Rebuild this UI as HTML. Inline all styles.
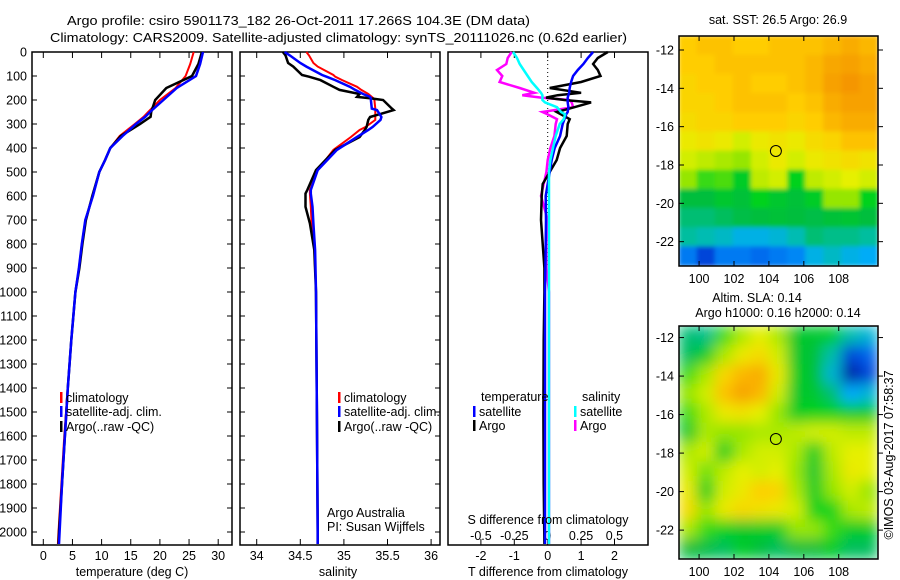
<!DOCTYPE html>
<html><head><meta charset="utf-8"><style>
html,body{margin:0;padding:0;background:#fff;}
svg{display:block;font-family:"Liberation Sans",sans-serif;}
text{font-size:12.5px;fill:#000;}
</style></head><body>
<svg id="chart" width="900" height="580" viewBox="0 0 900 580" xmlns="http://www.w3.org/2000/svg">
<defs>
<filter id="blurTop" x="0" y="0" width="1" height="1"><feGaussianBlur stdDeviation="2"/></filter>
<filter id="blurBot" x="0" y="0" width="1" height="1"><feGaussianBlur stdDeviation="7"/></filter>
<clipPath id="clipTop"><rect x="679" y="36" width="199" height="230"/></clipPath>
<clipPath id="clipBot"><rect x="679" y="326" width="199" height="233"/></clipPath>
</defs>
<text x="67" y="25" textLength="463" lengthAdjust="spacingAndGlyphs" font-size="13">Argo profile: csiro 5901173_182 26-Oct-2011 17.266S 104.3E (DM data)</text>
<text x="50" y="42" textLength="577" lengthAdjust="spacingAndGlyphs" font-size="13">Climatology: CARS2009. Satellite-adjusted climatology: synTS_20111026.nc (0.62d earlier)</text>
<g id="g"></g>
</svg>
<script>
// ---------- data ----------
const depthT = [0,50,100,150,200,250,270,300,350,400,450,500,600,700,800,900,1000,1200,1400,1600,1800,2000,2050];
const tempClim = [25.8,25.2,24.4,22.7,20.0,18.0,17.2,15.7,13.1,11.5,10.6,9.6,8.5,7.2,6.6,6.1,5.5,4.8,4.2,3.6,3.1,2.6,2.5];
const tempSat  = [27.4,26.9,26.2,22.9,20.6,18.3,17.5,15.9,13.6,11.5,10.6,9.6,8.5,7.2,6.6,6.1,5.5,4.8,4.2,3.7,3.2,2.8,2.7];
const tempArgo = [27.2,26.6,25.5,21.1,19.2,18.5,18.4,16.6,13.3,11.5,10.6,9.6,8.4,7.3,6.7,6.2,5.5,4.8,4.2,3.7,3.2,2.7,2.6];

const depthS = [0,14,46,61,96,103,117,145,158,175,187,193,200,236,242,271,283,312,325,354,408,492,575,590,645,714,825,1000,1500,2000,2050];
const salClim = [34.57,34.6,34.65,34.7,34.88,34.9,34.98,35.15,35.2,35.28,35.32,35.34,35.35,35.36,35.36,35.36,35.36,35.25,35.18,35.08,34.88,34.70,34.61,34.61,34.62,34.63,34.66,34.68,34.69,34.70,34.70];
const salSat  = [34.32,34.38,34.5,34.57,34.75,34.8,34.9,35.07,35.13,35.22,35.3,35.31,35.31,35.32,35.38,35.43,35.42,35.33,35.28,35.15,34.92,34.70,34.62,34.62,34.64,34.65,34.67,34.68,34.69,34.70,34.70];
const salArgo = [34.30,34.33,34.36,34.42,34.52,34.6,34.73,34.88,34.95,35.18,35.15,35.3,35.45,35.55,35.57,35.3,35.28,35.26,35.24,35.18,34.9,34.68,34.58,34.56,34.56,34.61,34.66,34.68,34.69,34.70,34.70];

const depthD = [0,25,50,75,100,125,150,170,180,190,200,210,230,250,260,280,300,350,400,450,500,550,600,700,800,900,1000,1200,1500,1800,2050];
const dTsat  = [1.36,1.2,1.07,0.9,0.76,0.7,0.66,0.64,0.62,0.6,0.6,0.6,0.62,0.6,0.55,0.5,0.45,0.37,0.21,0.12,0.06,0.0,-0.06,-0.05,-0.06,-0.07,-0.08,-0.08,-0.08,-0.08,-0.08];
const dTargo = [1.8,1.5,1.36,1.5,1.58,1.0,0.06,1.0,0.3,-0.05,0.5,1.3,0.8,0.27,0.4,0.66,0.6,0.57,0.37,0.27,0.06,-0.15,-0.18,-0.2,-0.15,-0.1,-0.1,-0.12,-0.13,-0.12,-0.1];
const dSsat  = [-0.26,-0.23,-0.21,-0.18,-0.15,-0.12,-0.08,-0.05,-0.04,-0.04,-0.04,-0.02,0.07,0.1,0.13,0.12,0.09,0.06,0.04,0.02,0.01,0.01,0.01,0.01,0.01,0.01,0.01,0.01,0.01,0.01,0.01];
const dSargo = [-0.27,-0.3,-0.31,-0.38,-0.34,-0.36,-0.21,-0.1,-0.19,-0.05,0.16,0.18,0.19,-0.04,0.0,0.07,0.06,0.05,0.02,0.0,-0.01,-0.03,-0.05,0.0,-0.01,-0.01,0.01,0.01,0.01,0.01,0.01];

const tempTicks = [0,5,10,15,20,25,30];
const salTicks = [34,34.5,35,35.5,36];
const dTTicks = [-2,-1,0,1,2];
const dSTicks = [-0.5,-0.25,0,0.25,0.5];
const depthTicks = [0,100,200,300,400,500,600,700,800,900,1000,1100,1200,1300,1400,1500,1600,1700,1800,1900,2000];
const lonTicks = [100,102,104,106,108];
const latTicks = [-12,-14,-16,-18,-20,-22];

const sstGrid = [
[.78,.8,.8,.78,.78,.8,.8,.8,.82,.84,.82],
[.78,.78,.8,.8,.8,.8,.8,.82,.85,.86,.84],
[.76,.78,.78,.8,.78,.78,.8,.82,.86,.88,.86],
[.76,.76,.78,.8,.8,.8,.78,.8,.84,.86,.86],
[.74,.76,.76,.78,.78,.78,.76,.78,.82,.84,.84],
[.7,.72,.7,.66,.7,.72,.7,.74,.76,.8,.8],
[.66,.64,.62,.6,.66,.7,.66,.7,.72,.74,.72],
[.6,.55,.56,.5,.64,.66,.52,.64,.66,.68,.66],
[.45,.45,.48,.46,.52,.48,.46,.5,.6,.6,.52],
[.4,.4,.42,.44,.45,.46,.45,.44,.46,.47,.45],
[.36,.34,.32,.28,.28,.3,.34,.4,.38,.38,.36],
[.18,.1,.18,.18,.16,.18,.2,.28,.32,.28,.26]];
const slaGrid = [
[.4,.38,.55,.62,.68,.62,.48,.48,.5,.35,.3],
[.42,.5,.62,.7,.74,.66,.48,.46,.35,.1,.15],
[.55,.62,.75,.82,.84,.7,.5,.46,.3,.02,.1],
[.6,.66,.8,.86,.82,.66,.48,.48,.4,.25,.3],
[.55,.62,.7,.72,.68,.6,.5,.52,.52,.5,.5],
[.48,.62,.6,.6,.62,.62,.64,.66,.66,.64,.64],
[.62,.66,.5,.62,.66,.66,.62,.5,.64,.68,.68],
[.66,.58,.64,.68,.66,.68,.6,.48,.62,.7,.68],
[.7,.5,.66,.7,.78,.76,.62,.5,.6,.66,.6],
[.74,.6,.7,.75,.72,.7,.66,.52,.52,.62,.64],
[.62,.55,.52,.48,.5,.5,.6,.6,.55,.5,.5],
[.45,.44,.42,.5,.45,.42,.45,.45,.5,.42,.42]];
const argoLon = 104.4, argoLat = -17.27;

// ---------- helpers ----------
const NS="http://www.w3.org/2000/svg";
const G=document.getElementById('g');
function mk(tag,attrs,parent){const e=document.createElementNS(NS,tag);for(const k in attrs)e.setAttribute(k,attrs[k]);(parent||G).appendChild(e);return e;}
function txt(x,y,s,anchor,parent,size){const t=mk('text',{x:x,y:y,'text-anchor':anchor||'start'},parent);if(size)t.setAttribute('font-size',size);t.textContent=s;return t;}

const yDepth = d => 52 + d*0.24;
const TOP=52, BOT=545;
const panels=[{x0:32,x1:232},{x0:240,x1:440},{x0:448,x1:648}];
const xT = v => 43.3 + v*5.83;
const xS = v => 256.7 + (v-34)*87.2;
const xDT = v => 547.7 + v*33.4;
const xDS = v => 547.7 + v*133.5;

panels.forEach((p,i)=>{
  const r=mk('rect',{x:p.x0,y:TOP,width:p.x1-p.x0,height:BOT-TOP,fill:'none',stroke:'#000','stroke-width':1.5});
  
  
});
depthTicks.forEach(d=>{
  const y=yDepth(d);
  const lab=txt(27,y+4.5,String(d),'end');
  
  
  [0,1].forEach(i=>{const p=panels[i];
    mk('line',{x1:p.x0,x2:p.x0+5,y1:y,y2:y,stroke:'#000'});
    mk('line',{x1:p.x1,x2:p.x1-5,y1:y,y2:y,stroke:'#000'});});
});
function xTicks(vals,fx,pi,ly,labelFn,tickBottom,tickTop){
  vals.forEach(v=>{const x=fx(v);
    if(tickBottom) mk('line',{x1:x,x2:x,y1:BOT,y2:BOT-6,stroke:'#000'});
    if(tickTop) mk('line',{x1:x,x2:x,y1:TOP,y2:TOP+6,stroke:'#000'});
    const t=txt(x,ly,labelFn(v),'middle');
    
    
  });
}
xTicks(tempTicks,xT,0,560,v=>String(v),true,true);
xTicks(salTicks,xS,1,560,v=>String(v),true,true);
xTicks(dTTicks,xDT,2,560,v=>String(v),true,true);
xTicks(dSTicks,xDS,2,540,v=>String(v),false,false);

function line(depths,vals,fx,color,name,w){
  const pts=depths.map((d,i)=>fx(vals[i]).toFixed(1)+','+yDepth(d).toFixed(1)).join(' ');
  const pl=mk('polyline',{points:pts,fill:'none',stroke:color,'stroke-width':w||2,'stroke-linejoin':'miter'});
  
  
}
line(depthT,tempClim,xT,'#ff0000','temp-climatology-line');
line(depthT,tempArgo,xT,'#000000','temp-argo-line',2.5);
line(depthT,tempSat,xT,'#0000ff','temp-satellite-line',2.5);
line(depthS,salClim,xS,'#ff0000','salinity-climatology-line');
line(depthS,salArgo,xS,'#000000','salinity-argo-line',2.5);
line(depthS,salSat,xS,'#0000ff','salinity-satellite-line',2.5);
const z=mk('line',{x1:xDT(0),x2:xDT(0),y1:TOP,y2:265,stroke:'#000','stroke-dasharray':'1,3'});


line(depthD,dSargo,xDS,'#ff00ff','sal-diff-argo-line',2.5);
line(depthD,dTargo,xDT,'#000000','temp-diff-argo-line',2.5);
line(depthD,dTsat,xDT,'#0000ff','temp-diff-satellite-line',2.5);
line(depthD,dSsat,xDS,'#00ffff','sal-diff-satellite-line',2.5);

function legend(x,y,color,label,name){
  const r=mk('rect',{x:x,y:y-10,width:2.5,height:11,fill:color});
  
  
  const t=txt(x+6,y,label,'start');
  
  
}
legend(60,402,'#ff0000','climatology','legend-climatology');
legend(60,416,'#0000ff','satellite-adj. clim.','legend-satellite');
legend(60,431,'#000','Argo(..raw -QC)','legend-argo');
legend(338,402,'#ff0000','climatology','legend-climatology-2');
legend(338,416,'#0000ff','satellite-adj. clim.','legend-satellite-2');
legend(338,431,'#000','Argo(..raw -QC)','legend-argo-2');
txt(481,401,'temperature','start');
txt(582,401,'salinity','start');
legend(473,416,'#0000ff','satellite','legend-temp-satellite');
legend(473,430,'#000','Argo','legend-temp-argo');
legend(574,416,'#00ffff','satellite','legend-sal-satellite');
legend(574,430,'#ff00ff','Argo','legend-sal-argo');
txt(327,517,'Argo Australia','start');
txt(327,531,'PI: Susan Wijffels','start');
txt(548,524,'S difference from climatology','middle');
txt(132,576,'temperature (deg C)','middle');
txt(338,576,'salinity','middle');
txt(548,576,'T difference from climatology','middle');

const cmap=[[0,[0,16,150]],[0.12,[0,80,230]],[0.25,[0,170,255]],[0.35,[0,190,170]],[0.45,[0,190,60]],[0.52,[0,210,30]],[0.6,[150,230,0]],[0.68,[230,240,0]],[0.78,[255,205,0]],[0.88,[245,150,0]],[1,[230,110,0]]];
function col(v){for(let i=1;i<cmap.length;i++){if(v<=cmap[i][0]){const a=cmap[i-1],b=cmap[i],t=(v-a[0])/(b[0]-a[0]);return 'rgb('+a[1].map((c,k)=>Math.round(c+(b[1][k]-c)*t)).join(',')+')';}}return 'rgb(230,110,0)';}
function drawMap(grid,y0,y1,latTop,latBot,clip,blur,name){
  const x0=679,x1=878,lonL=98.85,lonR=110.25;
  const fx=lon=>x0+(lon-lonL)/(lonR-lonL)*(x1-x0);
  const fy=lat=>y0+(latTop-lat)/(latTop-latBot)*(y1-y0);
  const cg=mk('g',{'clip-path':'url(#'+clip+')'});
  const ig=mk('g',{filter:'url(#'+blur+')'},cg);
  mk('rect',{x:x0,y:y0,width:x1-x0,height:y1-y0,fill:col(grid[6][5])},ig);
  const nr=grid.length,nc=grid[0].length,cw=(x1-x0)/nc,ch=(y1-y0)/nr;
  grid.forEach((row,r)=>row.forEach((v,c)=>{
    const cell=mk('rect',{x:(x0+c*cw-0.5).toFixed(1),y:(y0+r*ch-0.5).toFixed(1),width:(cw+1).toFixed(1),height:(ch+1).toFixed(1),fill:col(v)},ig);
    
    
  }));
  const fr=mk('rect',{x:x0,y:y0,width:x1-x0,height:y1-y0,fill:'none',stroke:'#000','stroke-width':1.5});
  
  
  lonTicks.forEach(l=>{const x=fx(l);
    mk('line',{x1:x,x2:x,y1:y1,y2:y1-5,stroke:'#000'});mk('line',{x1:x,x2:x,y1:y0,y2:y0+5,stroke:'#000'});
    const t=txt(x,y1+17,String(l),'middle');
    
    });
  latTicks.forEach(l=>{const y=fy(l);
    mk('line',{x1:x0,x2:x0+5,y1:y,y2:y,stroke:'#000'});mk('line',{x1:x1,x2:x1+5,y1:y,y2:y,stroke:'#000'});
    const t=txt(674,y+4.5,String(l),'end');
    
    });
  const c=mk('circle',{cx:fx(argoLon),cy:fy(argoLat),r:5.5,fill:'none',stroke:'#000','stroke-width':1});
  
  
}
drawMap(sstGrid,36,266,-11.27,-23.27,'clipTop','blurTop','sst-map');
drawMap(slaGrid,326,559,-11.4,-23.5,'clipBot','blurBot','sla-map');
txt(778,24,'sat. SST: 26.5 Argo: 26.9','middle');
txt(757,302,'Altim. SLA: 0.14','middle');
txt(778,317,'Argo h1000: 0.16 h2000: 0.14','middle');
const cr=txt(0,0,'©IMOS 03-Aug-2017 07:58:37','middle');
cr.setAttribute('transform','translate(893,455) rotate(-90)');


</script>
</body></html>
